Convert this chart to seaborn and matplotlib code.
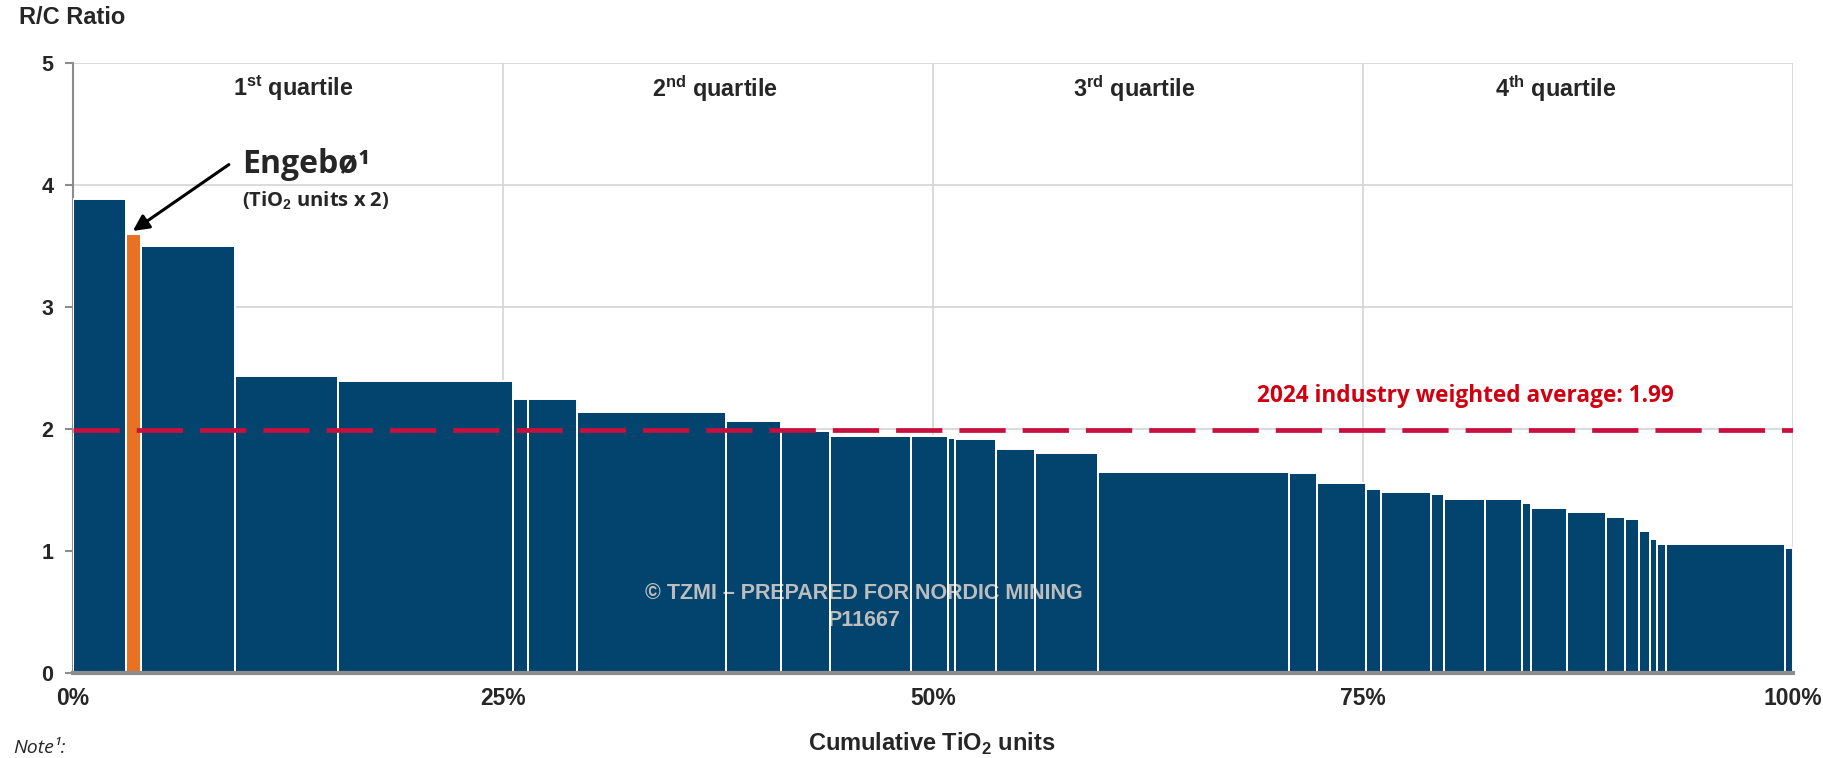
import matplotlib
matplotlib.use("Agg")
import matplotlib.pyplot as plt
import seaborn as sns
import numpy as np

# Datos (ancho en % de unidades TiO2, ratio R/C)
anchos = [3.09, 0.88, 5.43, 6.04, 10.13, 0.88, 2.88, 8.62, 3.20, 2.85,
          4.70, 2.20, 0.41, 2.34, 2.29, 3.63, 11.16, 1.60, 2.84, 0.87,
          2.89, 0.81, 2.34, 2.15, 0.54, 2.08, 2.27, 1.14, 0.82, 0.59,
          0.42, 0.53, 6.94, 0.44]
ratios = [3.885, 3.597, 3.496, 2.435, 2.394, 2.245, 2.245, 2.139, 2.063, 1.986,
          1.940, 1.940, 1.930, 1.915, 1.838, 1.800, 1.649, 1.642, 1.555, 1.507,
          1.488, 1.471, 1.430, 1.430, 1.395, 1.356, 1.318, 1.279, 1.260, 1.167,
          1.101, 1.060, 1.060, 1.022]
idx_engebo = 1
promedio_industria = 1.99
cuartiles = ["1$^{\\mathbf{st}}$ quartile", "2$^{\\mathbf{nd}}$ quartile",
             "3$^{\\mathbf{rd}}$ quartile", "4$^{\\mathbf{th}}$ quartile"]
cuartiles_x = [12.8, 37.3, 61.7, 86.2]
xticks = [0, 25, 50, 75, 100]
xtick_labels = ["0%", "25%", "50%", "75%", "100%"]

AZUL = "#02446E"
NARANJA = "#E87124"
ROJO = "#C80F3D"
CALIBRI = ["Open Sans", "DejaVu Sans"]

sns.set_theme(style="white")
plt.rcParams['font.family'] = ['Liberation Sans', 'DejaVu Sans']
plt.rcParams['mathtext.fontset'] = 'custom'
plt.rcParams['mathtext.rm'] = 'Liberation Sans'
plt.rcParams['mathtext.bf'] = 'Liberation Sans:bold'

fig = plt.figure(figsize=(18.23, 7.58), dpi=100)
ax = fig.add_axes([0.040, 0.112, 0.9435, 0.805])

# posiciones acumuladas
inicio = np.concatenate([[0], np.cumsum(anchos)[:-1]])
colores = [NARANJA if i == idx_engebo else AZUL for i in range(len(anchos))]
ax.bar(inicio, ratios, width=anchos, align="edge", color=colores,
       linewidth=0, zorder=2)

# marca de agua (queda bajo los bordes blancos)
ax.text(46.0, 0.655, "© TZMI – PREPARED FOR NORDIC MINING", color="#BDBDBD",
        fontsize=15.5, fontweight="bold", ha="center", va="center", zorder=3)
ax.text(46.0, 0.435, "P11667", color="#BDBDBD",
        fontsize=15.5, fontweight="bold", ha="center", va="center", zorder=3)

# bordes blancos de las barras
ax.bar(inicio, ratios, width=anchos, align="edge", facecolor="none",
       edgecolor="white", linewidth=1.4, zorder=3.5)

# rejilla
for y in range(1, 6):
    ax.axhline(y, color="#D4D4D4", lw=1.2, zorder=0)
for x in xticks[1:]:
    ax.axvline(x, color="#D4D4D4", lw=1.2, zorder=0)

# promedio ponderado
ax.axhline(promedio_industria, color=ROJO, lw=3.4, dashes=(9.8, 3.6), zorder=4)
ax.text(93.1, 2.27, "2024 industry weighted average: 1.99", color="#D00010",
        fontsize=16.3, fontweight="bold", family=CALIBRI,
        ha="right", va="center", zorder=5)

# cuartiles
for cx, lab in zip(cuartiles_x, cuartiles):
    ax.text(cx, 4.79, lab, ha="center", va="center",
            fontsize=16.8, fontweight="bold", zorder=5)

# Engebø
ax.annotate("", xy=(3.35, 3.61), xytext=(9.2, 4.18),
            arrowprops=dict(arrowstyle="-|>", color="black", lw=2.2,
                            mutation_scale=24), zorder=6)
ax.text(9.85, 4.17, "Engebø¹", fontsize=23, fontweight="bold",
        family=CALIBRI, ha="left", va="center")
ax.text(9.85, 3.87, "(TiO$_{\\mathbf{2}}$ units x 2)", fontsize=14.5,
        fontweight="bold", family=CALIBRI, ha="left", va="center")

# ejes
ax.set_xlim(0, 100)
ax.set_ylim(0, 5)
ax.set_xticks(xticks)
ax.set_xticklabels(xtick_labels, fontsize=16.5, fontweight="bold")
ax.set_yticks(range(0, 6))
ax.set_yticklabels([str(v) for v in range(0, 6)], fontsize=15.5,
                   fontweight="bold")
ax.tick_params(axis="x", length=0, pad=10)
ax.tick_params(axis="y", length=6, width=1.5, color="#8C8C8C", left=True, pad=8)
for lado in ["top", "right"]:
    ax.spines[lado].set_visible(False)
ax.spines["left"].set_color("#8C8C8C")
ax.spines["left"].set_linewidth(1.5)
ax.spines["bottom"].set_color("#8C8C8C")
ax.spines["bottom"].set_linewidth(3)
ax.spines["bottom"].set_zorder(6)
ax.grid(False)

fig.text(0.0104, 0.977, "R/C Ratio", fontsize=17, fontweight="bold",
         ha="left", va="center")
fig.text(0.511, 0.019, "Cumulative TiO$_{\\mathbf{2}}$ units", fontsize=17,
         fontweight="bold", ha="center", va="center")
fig.text(0.007, 0.013, "Note¹:", fontsize=14, style="italic",
         family=CALIBRI, ha="left", va="center")

fig.savefig("out.png", dpi=100)
